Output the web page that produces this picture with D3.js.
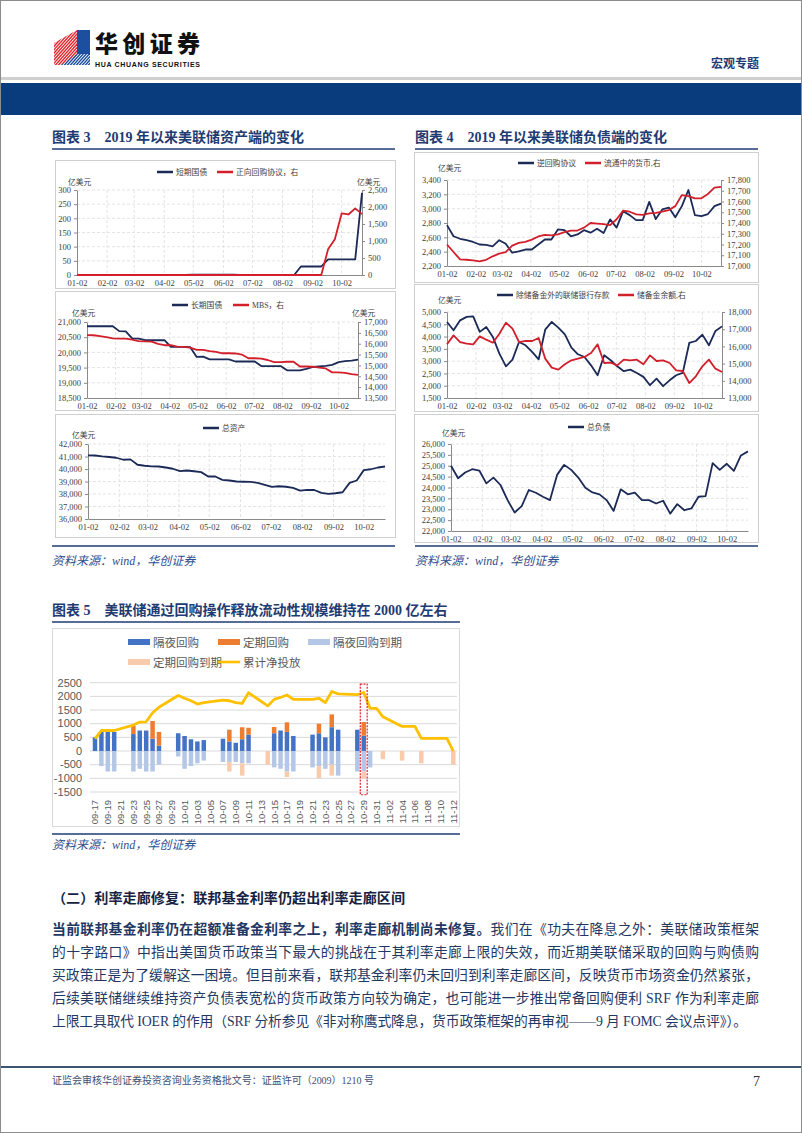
<!DOCTYPE html>
<html>
<head>
<meta charset="utf-8">
<script src="https://cdn.jsdelivr.net/npm/d3@7"></script>
<style>
  body { margin: 0; background: #fff; }
  svg { display: block; }
</style>
</head>
<body>
<svg id="page" width="802" height="1133"></svg>
<script>
// ---------- data: weekly H.4.1 series, 2019-01-02 .. 2019-10-23 ----------
const monthTicks = ["01-02","02-02","03-02","04-02","05-02","06-02","07-02","08-02","09-02","10-02"];

const billsShort = [0,0,0,0,0,0,0,0,0,0, 0,0,0,0,0,0,0,1.5,1.5,1.5,
  1.5,1.5,1.5,1.5,0,0,0,0,0,0, 0,0,0,30,30,30,30,55,55,55, 55,55,290];
const repoFed = [0,0,0,0,0,0,0,0,0,0, 0,0,0,0,0,0,0,0,0,0,
  0,0,0,0,0,0,0,0,0,0, 0,0,0,0,0,0,0,755,1050,1810, 1780,1960,1790];

const bondsLong = [20860,20860,20860,20860,20860,20700,20690,20460,20450,20400,
  20400,20400,20400,20180,20180,20180,20170,19850,19860,19770,
  19770,19770,19770,19700,19700,19700,19700,19550,19550,19550,
  19550,19410,19410,19410,19460,19520,19540,19560,19590,19680,
  19710,19730,19760];
const mbs = [16396,16390,16350,16300,16250,16230,16230,16190,16120,16110,
  16100,15990,15930,15930,15870,15850,15820,15720,15720,15660,
  15620,15560,15560,15550,15500,15330,15330,15310,15250,15150,
  15150,15170,15170,14950,14950,14940,14900,14860,14680,14680,
  14660,14600,14560];

const totalAssets = [41090,41080,41010,40960,40900,40740,40770,40340,40260,40210,
  40200,40120,40020,39830,39880,39820,39750,39400,39400,39130,
  39080,39000,38980,38970,38890,38730,38570,38620,38580,38490,
  38270,38330,38320,38090,38010,38060,38140,38890,39080,39910,
  39980,40120,40200];

const reverseRepo = [2770,2615,2580,2560,2535,2500,2495,2475,2560,2510,
  2385,2405,2430,2430,2500,2570,2570,2710,2700,2615,
  2640,2700,2665,2720,2660,2850,2735,2965,2910,2840,
  2840,3095,2855,2990,3015,2880,3035,3260,2910,2895,
  2925,3035,3070];
const currency = [17200,17130,17062,17058,17052,17043,17058,17090,17115,17130,
  17190,17215,17225,17245,17275,17290,17285,17295,17315,17330,
  17330,17357,17400,17395,17390,17380,17435,17515,17505,17480,
  17475,17490,17495,17505,17520,17557,17660,17650,17630,17630,
  17670,17730,17737];

const otherDeposits = [4595,4255,4660,4800,4825,4190,4390,3985,3305,2790,
  3060,3780,3645,3375,3075,4280,4595,4365,4090,3550,
  3280,3170,2830,2425,3240,3035,2790,2590,2655,2520,
  2360,2020,2290,1980,2220,2425,2520,3740,3820,4080,
  3645,4230,4415];
const reserves = [16120,16640,16255,16160,16120,16585,16390,16215,16740,17380,
  17030,16255,16315,16315,16490,15290,14765,14650,14960,15190,
  15290,15385,15615,16120,15035,15055,14900,15230,15190,15230,
  14960,15480,15150,15190,15035,14610,14570,13870,14260,14840,
  15230,14705,14510];

const totalLiab = [25000,24425,24690,24840,24780,24190,24455,24115,23420,22850,
  23145,23885,23760,23575,23420,24580,25040,24810,24455,23990,
  23775,23685,23420,22925,23915,23685,23760,23420,23420,23265,
  23390,22800,23235,22955,23035,23575,23605,25120,24810,25090,
  24765,25475,25660];

// ---------- data: daily repo operations (亿美元) ----------
const repoDays = ["09-17","09-18","09-19","09-20","09-21","09-22","09-23","09-24","09-25","09-26",
  "09-27","09-28","09-29","09-30","10-01","10-02","10-03","10-04","10-05","10-06",
  "10-07","10-08","10-09","10-10","10-11","10-12","10-13","10-14","10-15","10-16",
  "10-17","10-18","10-19","10-20","10-21","10-22","10-23","10-24","10-25","10-26",
  "10-27","10-28","10-29","10-30","10-31","11-01","11-02","11-03","11-04","11-05",
  "11-06","11-07","11-08","11-09","11-10","11-11","11-12"];
const overnightRepo = [500,700,700,700,0,0,620,750,750,450,
  200,0,0,650,550,430,350,400,0,0,
  450,350,300,430,600,0,0,0,650,750,
  700,550,0,0,600,650,500,870,780,0,
  0,780,560,0,0,0,0,0,0,0,
  0,0,0,0,0,0,0];
const termRepo = [0,0,0,0,0,0,300,0,0,650,
  500,0,0,0,0,0,0,0,0,0,
  0,430,0,440,250,0,0,0,230,0,
  350,0,0,0,0,350,0,470,0,0,
  0,0,500,0,0,0,0,0,0,0,
  0,0,0,0,0,0,0];
const overnightMat = [0,-550,-750,-750,0,0,-750,-650,-750,-750,
  -500,0,0,-200,-650,-550,-450,-350,0,0,
  -400,-400,-400,-450,-450,0,0,0,-600,-650,
  -750,-750,0,0,-600,-550,-650,-500,-900,0,
  0,-750,-750,-600,0,0,0,0,0,0,
  0,0,0,0,0,0,0];
const termMat = [0,0,0,0,0,0,0,0,0,0,
  0,0,0,0,0,0,0,0,0,0,
  0,-350,0,-450,0,0,0,-500,0,0,
  -200,0,0,0,0,-450,0,-400,0,0,
  0,0,-250,0,0,-300,0,0,-350,0,
  0,-450,0,0,0,0,-500];
const netCum = [450,750,750,750,null,null,950,1060,1070,1400,
  1600,null,null,2030,1930,1840,1720,1770,null,null,
  1860,1840,1770,1740,2130,null,null,1650,1890,1960,
  2050,1890,null,null,1890,1930,1770,2180,2090,null,
  null,2060,2140,1560,1560,1250,null,null,900,900,
  900,460,460,null,null,460,0];
const highlightDay = "10-29";

// ---------- page ----------
const svg = d3.select("#page");
const SERIF = "'Liberation Serif', 'Noto Sans CJK SC', serif";
const CJK = "'Noto Sans CJK SC', sans-serif";
const NAVY = "#1b2a57", RED = "#d21f2b", TITLE = "#1f3b73";
const parseDay = d3.timeParse("%Y-%m-%d");
const weeks = d3.timeDay.range(new Date(2019, 0, 2), new Date(2019, 9, 24), 7);
const monthDates = monthTicks.map(m => parseDay("2019-" + m));

svg.append("rect").attr("x", 0.5).attr("y", 0.5).attr("width", 801).attr("height", 1132)
  .attr("fill", "none").attr("stroke", "#8c8c8c");

// header + logo
const logo = svg.append("g");
const defs = svg.append("defs");
defs.append("clipPath").attr("id", "redclip").append("polygon").attr("points", "54,43 77,30 77,55 61,65 54,65");
defs.append("clipPath").attr("id", "blueclip").append("polygon").attr("points", "61,65 77,54 90,54 90,65");
logo.append("g").attr("clip-path", "url(#redclip)").selectAll("line").data(d3.range(-20, 50, 3)).join("line")
  .attr("x1", d => 50 + d).attr("y1", 70).attr("x2", d => 50 + d + 40).attr("y2", 25)
  .attr("stroke", "#e2262b").attr("stroke-width", 1.4);
logo.append("rect").attr("x", 77).attr("y", 30).attr("width", 13).attr("height", 24).attr("fill", "#1c4fa0");
logo.append("g").attr("clip-path", "url(#blueclip)").selectAll("line").data(d3.range(-20, 50, 3)).join("line")
  .attr("x1", d => 50 + d).attr("y1", 70).attr("x2", d => 50 + d + 40).attr("y2", 25)
  .attr("stroke", "#1c4fa0").attr("stroke-width", 1.4);
svg.append("text").attr("x", 95).attr("y", 52).text("华创证券")
  .attr("font-family", CJK).attr("font-weight", 900).attr("font-size", 23)
  .attr("textLength", 105).attr("fill", "#111");
svg.append("text").attr("x", 95).attr("y", 66.5).text("HUA CHUANG SECURITIES")
  .attr("font-family", "'Liberation Sans', sans-serif").attr("font-weight", 700).attr("font-size", 7)
  .attr("textLength", 105).attr("fill", "#111");
svg.append("text").attr("x", 711).attr("y", 68).text("宏观专题")
  .attr("font-family", CJK).attr("font-weight", 700).attr("font-size", 12).attr("fill", TITLE);
svg.append("rect").attr("x", 1).attr("y", 77).attr("width", 800).attr("height", 3).attr("fill", "#cfcfcf");
svg.append("rect").attr("x", 1).attr("y", 83).attr("width", 800).attr("height", 32).attr("fill", "#083c7d");

// figure titles, rules and sources
function figTitle(x, y, x2, num, txt) {
  const t = svg.append("text").attr("x", x).attr("y", y).attr("font-family", SERIF)
    .attr("font-weight", 700).attr("font-size", 14).attr("fill", TITLE);
  t.append("tspan").text("图表 " + num);
  t.append("tspan").attr("dx", 14).text(txt);
  svg.append("line").attr("x1", x).attr("x2", x2).attr("y1", y + 7).attr("y2", y + 7)
    .attr("stroke", TITLE).attr("stroke-width", 1.5);
}
function source(x, y) {
  svg.append("text").attr("x", x).attr("y", y).text("资料来源：wind，华创证券")
    .attr("font-family", SERIF).attr("font-style", "italic").attr("font-size", 12).attr("fill", "#2e4e8e");
}
function rule(x1, x2, y) {
  svg.append("line").attr("x1", x1).attr("x2", x2).attr("y1", y).attr("y2", y)
    .attr("stroke", TITLE).attr("stroke-width", 1.5);
}
figTitle(52, 142, 395, "3", "2019 年以来美联储资产端的变化");
figTitle(415, 142, 758, "4", "2019 年以来美联储负债端的变化");
rule(52, 395, 546); rule(415, 758, 546);
source(52, 565); source(415, 565);

// ---------- weekly line charts ----------
function styleAxis(ax) {
  ax.select(".domain").attr("stroke", "#8a8a8a");
  ax.selectAll(".tick line").attr("stroke", "#8a8a8a");
  ax.selectAll("text").attr("font-family", SERIF).attr("font-size", 8.5).attr("fill", "#404040");
}
const fmt = d3.format(",");

function lineChart(c) {
  const g = svg.append("g");
  g.append("rect").attr("x", c.box[0] + 0.5).attr("y", c.box[1] + 0.5)
    .attr("width", c.box[2]).attr("height", c.box[3]).attr("fill", "none").attr("stroke", "#cfcfcf");
  const x = d3.scaleTime().domain(d3.extent(weeks)).range([c.left, c.right]);
  const yl = d3.scaleLinear().domain(c.yl).range([c.bottom, c.top]);
  const ylTicks = d3.range(c.yl[0], c.yl[1] + c.ylStep / 2, c.ylStep);

  g.append("g").selectAll("line").data(ylTicks.slice(1)).join("line")
    .attr("x1", c.left).attr("x2", c.right).attr("y1", d => yl(d)).attr("y2", d => yl(d))
    .attr("stroke", "#e4e4e4").attr("stroke-dasharray", "3,2");
  g.append("g").selectAll("line").data(monthDates.slice(1)).join("line")
    .attr("x1", d => x(d)).attr("x2", d => x(d)).attr("y1", c.top).attr("y2", c.bottom)
    .attr("stroke", "#e4e4e4").attr("stroke-dasharray", "3,2");

  styleAxis(g.append("g").attr("transform", `translate(${c.left},0)`)
    .call(d3.axisLeft(yl).tickValues(ylTicks).tickSize(3).tickSizeOuter(0).tickPadding(3).tickFormat(fmt)));
  let yr = null;
  if (c.yr) {
    yr = d3.scaleLinear().domain(c.yr).range([c.bottom, c.top]);
    styleAxis(g.append("g").attr("transform", `translate(${c.right},0)`)
      .call(d3.axisRight(yr).tickValues(d3.range(c.yr[0], c.yr[1] + c.yrStep / 2, c.yrStep))
        .tickSize(3).tickSizeOuter(0).tickPadding(3).tickFormat(fmt)));
  }
  styleAxis(g.append("g").attr("transform", `translate(0,${c.bottom})`)
    .call(d3.axisBottom(x).tickValues(monthDates).tickSize(0).tickSizeOuter(0).tickPadding(5)
      .tickFormat(d3.timeFormat("%m-%d"))));

  c.series.forEach(s => {
    const ys = s.right ? yr : yl;
    g.append("path").datum(s.values)
      .attr("d", d3.line().x((d, i) => x(weeks[i])).y(d => ys(d)))
      .attr("fill", "none").attr("stroke", s.color).attr("stroke-width", 1.8)
      .attr("stroke-linejoin", "round");
    g.append("line").attr("x1", s.lx).attr("x2", s.lx + 16).attr("y1", c.legendY).attr("y2", c.legendY)
      .attr("stroke", s.color).attr("stroke-width", 2.5);
    g.append("text").attr("x", s.lx + 19).attr("y", c.legendY + 3).text(s.name)
      .attr("font-family", SERIF).attr("font-size", 7.8).attr("fill", "#404040");
  });
  c.units.forEach(u => {
    g.append("text").attr("x", u[0]).attr("y", u[1]).text("亿美元")
      .attr("font-family", CJK).attr("font-size", 7.8).attr("fill", "#404040");
  });
}

lineChart({ box: [55, 160, 340, 128], left: 77, right: 362, top: 190, bottom: 275,
  yl: [0, 300], ylStep: 50, yr: [0, 2500], yrStep: 500, legendY: 172,
  units: [[68, 184.5], [357, 184.5]],
  series: [
    { name: "短期国债", values: billsShort, color: NAVY, lx: 157 },
    { name: "正向回购协议，右", values: repoFed, color: RED, right: true, lx: 217 }
  ] });
lineChart({ box: [55, 291, 340, 119], left: 87, right: 358, top: 322, bottom: 398,
  yl: [18500, 21000], ylStep: 500, yr: [13500, 17000], yrStep: 500, legendY: 305,
  units: [[72, 315.5], [352, 315.5]],
  series: [
    { name: "长期国债", values: bondsLong, color: NAVY, lx: 172 },
    { name: "MBS，右", values: mbs, color: RED, right: true, lx: 233 }
  ] });
lineChart({ box: [55, 414, 340, 123], left: 88, right: 385, top: 444, bottom: 519,
  yl: [36000, 42000], ylStep: 1000, legendY: 428,
  units: [[72, 438]],
  series: [ { name: "总资产", values: totalAssets, color: NAVY, lx: 203 } ] });

lineChart({ box: [414, 152, 344, 130], left: 447, right: 721, top: 180, bottom: 266,
  yl: [2200, 3400], ylStep: 200, yr: [17000, 17800], yrStep: 100, legendY: 163,
  units: [[438, 171]],
  series: [
    { name: "逆回购协议", values: reverseRepo, color: NAVY, lx: 518 },
    { name: "流通中的货币,右", values: currency, color: RED, right: true, lx: 585 }
  ] });
lineChart({ box: [414, 284, 344, 127], left: 447, right: 722, top: 312, bottom: 398,
  yl: [1500, 5000], ylStep: 500, yr: [13000, 18000], yrStep: 1000, legendY: 295,
  units: [[438, 302.5]],
  series: [
    { name: "除储备金外的联储银行存款", values: otherDeposits, color: NAVY, lx: 497 },
    { name: "储备金余额,右", values: reserves, color: RED, right: true, lx: 618 }
  ] });
lineChart({ box: [414, 414, 344, 128], left: 451, right: 748, top: 444, bottom: 531,
  yl: [22000, 26000], ylStep: 500, legendY: 427,
  units: [[442, 436]],
  series: [ { name: "总负债", values: totalLiab, color: NAVY, lx: 568 } ] });

// ---------- figure 5: repo operations ----------
figTitle(52, 615, 460, "5", "美联储通过回购操作释放流动性规模维持在 2000 亿左右");
svg.append("rect").attr("x", 52.5).attr("y", 628.5).attr("width", 407).attr("height", 198)
  .attr("fill", "none").attr("stroke", "#d9d9d9");
rule(52, 460, 834);
source(52, 849);

const f5 = svg.append("g");
const fx = d3.scaleBand().domain(repoDays).range([91.8, 456.5]).paddingInner(0.3).paddingOuter(0.15);
const fy = d3.scaleLinear().domain([-1500, 2500]).range([792, 682.7]);
const fyTicks = d3.range(-1500, 2501, 500);
f5.append("g").selectAll("line").data(fyTicks).join("line")
  .attr("x1", 90).attr("x2", 457).attr("y1", d => fy(d)).attr("y2", d => fy(d))
  .attr("stroke", "#d9d9d9");
f5.append("g").selectAll("text").data(fyTicks).join("text")
  .attr("x", 82).attr("y", d => fy(d) + 3.8).attr("text-anchor", "end").text(d => d)
  .attr("font-family", "'Liberation Sans', sans-serif").attr("font-size", 11).attr("fill", "#595959");

const repoKeys = ["overnight", "term", "overnightMat", "termMat"];
const repoColors = { overnight: "#4472c4", term: "#ed7d31", overnightMat: "#b4c7e7", termMat: "#f8cbad" };
const repoRows = repoDays.map((d, i) => ({ day: d, overnight: overnightRepo[i], term: termRepo[i],
  overnightMat: overnightMat[i], termMat: termMat[i] }));
const stacked = d3.stack().keys(repoKeys).offset(d3.stackOffsetDiverging)(repoRows);
f5.append("g").selectAll("g").data(stacked).join("g").attr("fill", s => repoColors[s.key])
  .selectAll("rect").data(s => s.filter(p => p[1] !== p[0])).join("rect")
  .attr("x", p => fx(p.data.day)).attr("width", fx.bandwidth())
  .attr("y", p => fy(Math.max(p[0], p[1]))).attr("height", p => Math.abs(fy(p[0]) - fy(p[1])));

const cumPts = repoDays.map((d, i) => ({ day: d, v: netCum[i] })).filter(p => p.v !== null);
f5.append("path").datum(cumPts)
  .attr("d", d3.line().x(p => fx(p.day) + fx.bandwidth() / 2).y(p => fy(p.v)))
  .attr("fill", "none").attr("stroke", "#ffc000").attr("stroke-width", 2.8).attr("stroke-linejoin", "round");

f5.append("rect").attr("x", fx(highlightDay) - 1.2).attr("width", fx.bandwidth() + 2.4)
  .attr("y", fy(2450)).attr("height", fy(-1600) - fy(2450))
  .attr("fill", "none").attr("stroke", "#e0202a").attr("stroke-width", 1.2).attr("stroke-dasharray", "2,1.2");

f5.append("g").selectAll("text").data(repoDays.filter((d, i) => i % 2 === 0)).join("text")
  .attr("transform", d => `translate(${fx(d) + fx.bandwidth() / 2 + 3.5},800) rotate(-90)`)
  .attr("text-anchor", "end").text(d => d)
  .attr("font-family", "'Liberation Sans', sans-serif").attr("font-size", 9.5).attr("fill", "#595959");

const f5legend = [
  { name: "隔夜回购", color: repoColors.overnight, x: 128, y: 642 },
  { name: "定期回购", color: repoColors.term, x: 218, y: 642 },
  { name: "隔夜回购到期", color: repoColors.overnightMat, x: 308, y: 642 },
  { name: "定期回购到期", color: repoColors.termMat, x: 128, y: 662 },
  { name: "累计净投放", color: "#ffc000", x: 218, y: 662, line: true }
];
f5legend.forEach(l => {
  if (l.line) {
    f5.append("line").attr("x1", l.x).attr("x2", l.x + 22).attr("y1", l.y).attr("y2", l.y)
      .attr("stroke", l.color).attr("stroke-width", 2.6);
  } else {
    f5.append("rect").attr("x", l.x).attr("y", l.y - 3).attr("width", 22).attr("height", 6).attr("fill", l.color);
  }
  f5.append("text").attr("x", l.x + 25).attr("y", l.y + 4.5).text(l.name)
    .attr("font-family", CJK).attr("font-size", 11.5).attr("fill", "#595959");
});

// ---------- text section ----------
svg.append("text").attr("x", 52).attr("y", 903).text("（二）利率走廊修复：联邦基金利率仍超出利率走廊区间")
  .attr("font-family", SERIF).attr("font-weight", 700).attr("font-size", 13.5)
  .attr("textLength", 353).attr("lengthAdjust", "spacingAndGlyphs").attr("fill", "#16223f");

const para = [
  [["当前联邦基金利率仍在超额准备金利率之上，利率走廊机制尚未修复。", true], ["我们在《功夫在降息之外：美联储政策框架", false]],
  [["的十字路口》中指出美国货币政策当下最大的挑战在于其利率走廊上限的失效，而近期美联储采取的回购与购债购", false]],
  [["买政策正是为了缓解这一困境。但目前来看，联邦基金利率仍未回归到利率走廊区间，反映货币市场资金仍然紧张，", false]],
  [["后续美联储继续维持资产负债表宽松的货币政策方向较为确定，也可能进一步推出常备回购便利 SRF 作为利率走廊", false]],
  [["上限工具取代 IOER 的作用（SRF 分析参见《非对称鹰式降息，货币政策框架的再审视——9 月 FOMC 会议点评》）。", false]]
];
para.forEach((line, i) => {
  const t = svg.append("text").attr("x", 52).attr("y", 934 + i * 23)
    .attr("font-family", SERIF).attr("font-size", 13.8).attr("fill", "#1f3864")
    .attr("textLength", i < para.length - 1 ? 707 : 695).attr("lengthAdjust", "spacing");
  line.forEach(seg => t.append("tspan").text(seg[0]).attr("font-weight", seg[1] ? 700 : 400));
});

// ---------- footer ----------
svg.append("line").attr("x1", 1).attr("x2", 801).attr("y1", 1067).attr("y2", 1067)
  .attr("stroke", "#3d5573").attr("stroke-width", 2);
svg.append("text").attr("x", 52).attr("y", 1084).text("证监会审核华创证券投资咨询业务资格批文号：证监许可（2009）1210 号")
  .attr("font-family", SERIF).attr("font-size", 10).attr("textLength", 322).attr("fill", "#3b4f77");
svg.append("text").attr("x", 753).attr("y", 1086).text("7")
  .attr("font-family", SERIF).attr("font-size", 14).attr("fill", "#333");
</script>
</body>
</html>
